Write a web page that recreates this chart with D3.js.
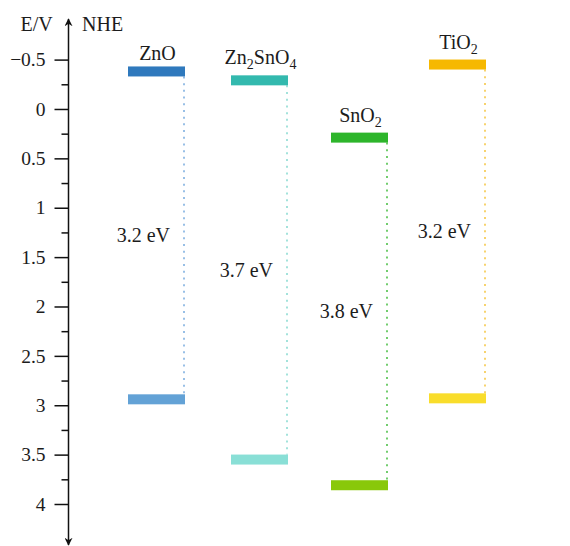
<!DOCTYPE html>
<html>
<head>
<meta charset="utf-8">
<script src="https://cdn.jsdelivr.net/npm/d3@7"></script>
<style>
  html, body { margin: 0; padding: 0; background: #fff; }
  svg { display: block; font-family: "Liberation Serif", "Times New Roman", serif; }
</style>
</head>
<body>
<svg id="chart" width="570" height="546"></svg>
<script>
// Semiconductor band edges (V vs NHE)
const materials = ["ZnO", "Zn2SnO4", "SnO2", "TiO2"];
const conductionBand = [-0.38, -0.29, 0.29, -0.45];
const valenceBand = [2.94, 3.55, 3.81, 2.93];
const gapLabels = ["3.2 eV", "3.7 eV", "3.8 eV", "3.2 eV"];
const cbColors = ["#2f79bd", "#33b9ae", "#2db52b", "#f6b800"];
const vbColors = ["#63a2d6", "#89dfd6", "#89c80a", "#f9dd2b"];
const dotColors = ["#7fb0e0", "#8ddbd3", "#4fc04a", "#f5c84a"];
const majorTicks = [-0.5, 0, 0.5, 1, 1.5, 2, 2.5, 3, 3.5, 4];
const majorTickLabels = ["\u22120.5", "0", "0.5", "1", "1.5", "2", "2.5", "3", "3.5", "4"];
const minorTicks = [-0.25, 0.25, 0.75, 1.25, 1.75, 2.25, 2.75, 3.25, 3.75];

const svg = d3.select("#chart");
const axisX = 68.5;
const barW = 57, barH = 10;
const fontSize = 20;
const ink = "#1c1c1c";

const y = d3.scaleLinear().domain([-0.5, 4]).range([59.6, 504]);
const x = d3.scaleOrdinal().domain(materials).range([156.5, 259.5, 359.5, 457.5]);

// Axis ticks
const majorAxis = d3.axisLeft(y)
  .tickValues(majorTicks)
  .tickFormat((d, i) => majorTickLabels[i])
  .tickSize(14)
  .tickPadding(9);
const gMajor = svg.append("g").attr("transform", `translate(${axisX},0)`).call(majorAxis);
gMajor.select(".domain").remove();
gMajor.selectAll("line").attr("stroke", "#111").attr("stroke-width", 1.5);
gMajor.selectAll("text")
  .attr("fill", ink)
  .style("font-family", '"Liberation Serif", serif')
  .style("font-size", "19.5px");

const minorAxis = d3.axisLeft(y).tickValues(minorTicks).tickFormat("").tickSize(7);
const gMinor = svg.append("g").attr("transform", `translate(${axisX},0)`).call(minorAxis);
gMinor.select(".domain").remove();
gMinor.selectAll("line").attr("stroke", "#111").attr("stroke-width", 1.5);

// Axis line with arrowheads at both ends
const defs = svg.append("defs");
defs.append("marker")
  .attr("id", "arrow")
  .attr("viewBox", "0 0 10 10")
  .attr("refX", 9).attr("refY", 5)
  .attr("markerWidth", 8).attr("markerHeight", 8)
  .attr("markerUnits", "userSpaceOnUse")
  .attr("orient", "auto-start-reverse")
  .append("path")
  .attr("d", "M0,0 L10,5 L0,10 L3,5 Z")
  .attr("fill", "#111");

svg.append("line")
  .attr("x1", axisX).attr("x2", axisX)
  .attr("y1", 19).attr("y2", 545)
  .attr("stroke", "#111").attr("stroke-width", 1.5)
  .attr("marker-start", "url(#arrow)")
  .attr("marker-end", "url(#arrow)");

svg.append("text")
  .attr("x", 52.7).attr("y", 31)
  .attr("text-anchor", "end")
  .attr("fill", ink)
  .style("font-size", fontSize + "px")
  .text("E/V");
svg.append("text")
  .attr("x", 82).attr("y", 31)
  .attr("fill", ink)
  .style("font-size", fontSize + "px")
  .text("NHE");

// Material bands
const rows = materials.map((m, i) => ({
  name: m, cb: conductionBand[i], vb: valenceBand[i], gap: gapLabels[i],
  cbColor: cbColors[i], vbColor: vbColors[i], dotColor: dotColors[i]
}));

const g = svg.append("g");
const item = g.selectAll("g.material").data(rows).join("g").attr("class", "material");

item.append("line")
  .attr("x1", d => x(d.name) + barW / 2 - 1)
  .attr("x2", d => x(d.name) + barW / 2 - 1)
  .attr("y1", d => y(d.cb) + barH / 2)
  .attr("y2", d => y(d.vb) - barH / 2)
  .attr("stroke", d => d.dotColor)
  .attr("stroke-width", 1.6)
  .attr("stroke-dasharray", "2,4.7");

item.append("rect")
  .attr("x", d => x(d.name) - barW / 2)
  .attr("y", d => y(d.cb) - barH / 2)
  .attr("width", barW).attr("height", barH)
  .attr("fill", d => d.cbColor);

item.append("rect")
  .attr("x", d => x(d.name) - barW / 2)
  .attr("y", d => y(d.vb) - barH / 2)
  .attr("width", barW).attr("height", barH)
  .attr("fill", d => d.vbColor);

// Material names with chemical subscripts
function nameParts(s) {
  const parts = [];
  const re = /(\d+)|(\D+)/g;
  let m;
  while ((m = re.exec(s)) !== null) parts.push({ t: m[0], sub: !!m[1] });
  return parts;
}

item.each(function(d) {
  const parts = nameParts(d.name);
  const hasSub = parts.some(p => p.sub);
  const top = y(d.cb) - barH / 2;
  const baseline = top - 6 - (hasSub ? 5 : 0);
  const t = d3.select(this).append("text")
    .attr("x", x(d.name) + 1)
    .attr("y", baseline)
    .attr("text-anchor", "middle")
    .attr("fill", ink)
    .style("font-size", fontSize + "px");
  let shifted = false;
  parts.forEach(p => {
    const ts = t.append("tspan").text(p.t);
    if (p.sub) {
      ts.attr("dy", 5).style("font-size", "14px");
      shifted = true;
    } else if (shifted) {
      ts.attr("dy", -5);
      shifted = false;
    }
  });
});

// Band gap labels
item.append("text")
  .attr("x", d => x(d.name) + barW / 2 - 15)
  .attr("y", d => (y(d.cb) + y(d.vb)) / 2 + 7)
  .attr("text-anchor", "end")
  .attr("fill", ink)
  .style("font-size", fontSize + "px")
  .text(d => d.gap);
</script>
</body>
</html>
